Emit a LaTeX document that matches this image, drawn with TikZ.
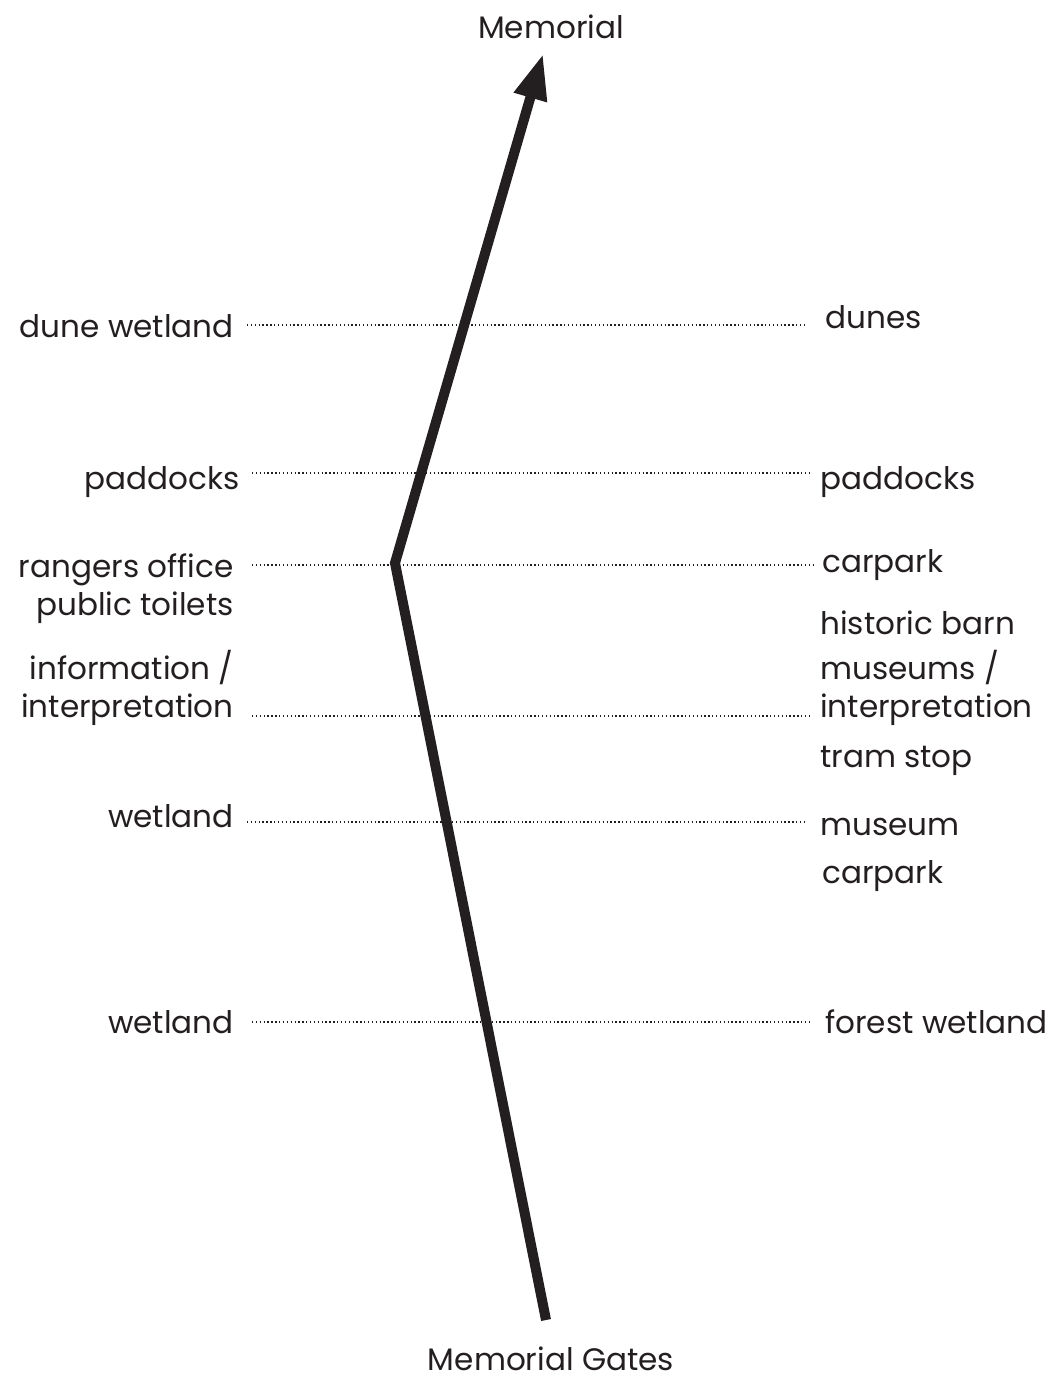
\documentclass[tikz,border=0pt]{standalone}
\usepackage{fontspec}
\setmainfont{Poppins}
\usetikzlibrary{arrows.meta}
\definecolor{ink}{HTML}{231F20}
\begin{document}
\begin{tikzpicture}[x=0.75pt,y=-0.75pt,
  lbl/.style={inner sep=0pt,text=ink,font=\fontsize{23.3}{27}\selectfont},
  lft/.style={lbl,anchor=base east},
  rgt/.style={lbl,anchor=base west},
  dotline/.style={ink,line width=1.1pt,dash pattern=on 1pt off 1.9pt},
  route/.style={ink,line width=7.5pt,line join=miter,-{Triangle[length=34pt,width=24pt]}}]
\useasboundingbox (0,0) rectangle (1055,1382);
% end labels
\node[lbl,anchor=base] (top) at (551,38) {Memorial};
\node[lbl,anchor=base] (bot) at (551,1370) {Memorial Gates};
% route
\coordinate (start) at (546,1320);
\coordinate (bend) at (395,563);
\coordinate (tip) at (543,54);
\draw[route] (start) -- (bend) -- (tip);
% left labels
\node[lft] (l1) at (234,337) {dune wetland};
\node[lft] (l2) at (240,489) {paddocks};
\node[lft] (l3) at (234,577) {rangers office};
\node[lft] (l3b) at (234,615) {public toilets};
\node[lft] (l4a) at (234,679) {information /};
\node[lft] (l4) at (234,717) {interpretation};
\node[lft] (l5) at (234,827) {wetland};
\node[lft] (l6) at (234,1033) {wetland};
% right labels
\node[rgt] (r1) at (825,328) {dunes};
\node[rgt] (r2) at (820,489) {paddocks};
\node[rgt] (r3) at (822,572) {carpark};
\node[rgt] (r4a) at (820,634) {historic barn};
\node[rgt] (r4b) at (820,679) {museums /};
\node[rgt] (r4) at (820,717) {interpretation};
\node[rgt] (r4c) at (820,767) {tram stop};
\node[rgt] (r5) at (820,835) {museum};
\node[rgt] (r5b) at (822,883) {carpark};
\node[rgt] (r6) at (825,1033) {forest wetland};
% dotted lines
\coordinate (a1) at (247,325); \coordinate (b1) at (805,325);
\coordinate (a2) at (252,473); \coordinate (b2) at (810,473);
\coordinate (a3) at (252,565); \coordinate (b3) at (815,565);
\coordinate (a4) at (252,716); \coordinate (b4) at (812,716);
\coordinate (a5) at (247,822); \coordinate (b5) at (805,822);
\coordinate (a6) at (252,1022); \coordinate (b6) at (810,1022);
\foreach \i in {1,...,6} \draw[dotline] (a\i) -- (b\i);
\end{tikzpicture}
\end{document}
